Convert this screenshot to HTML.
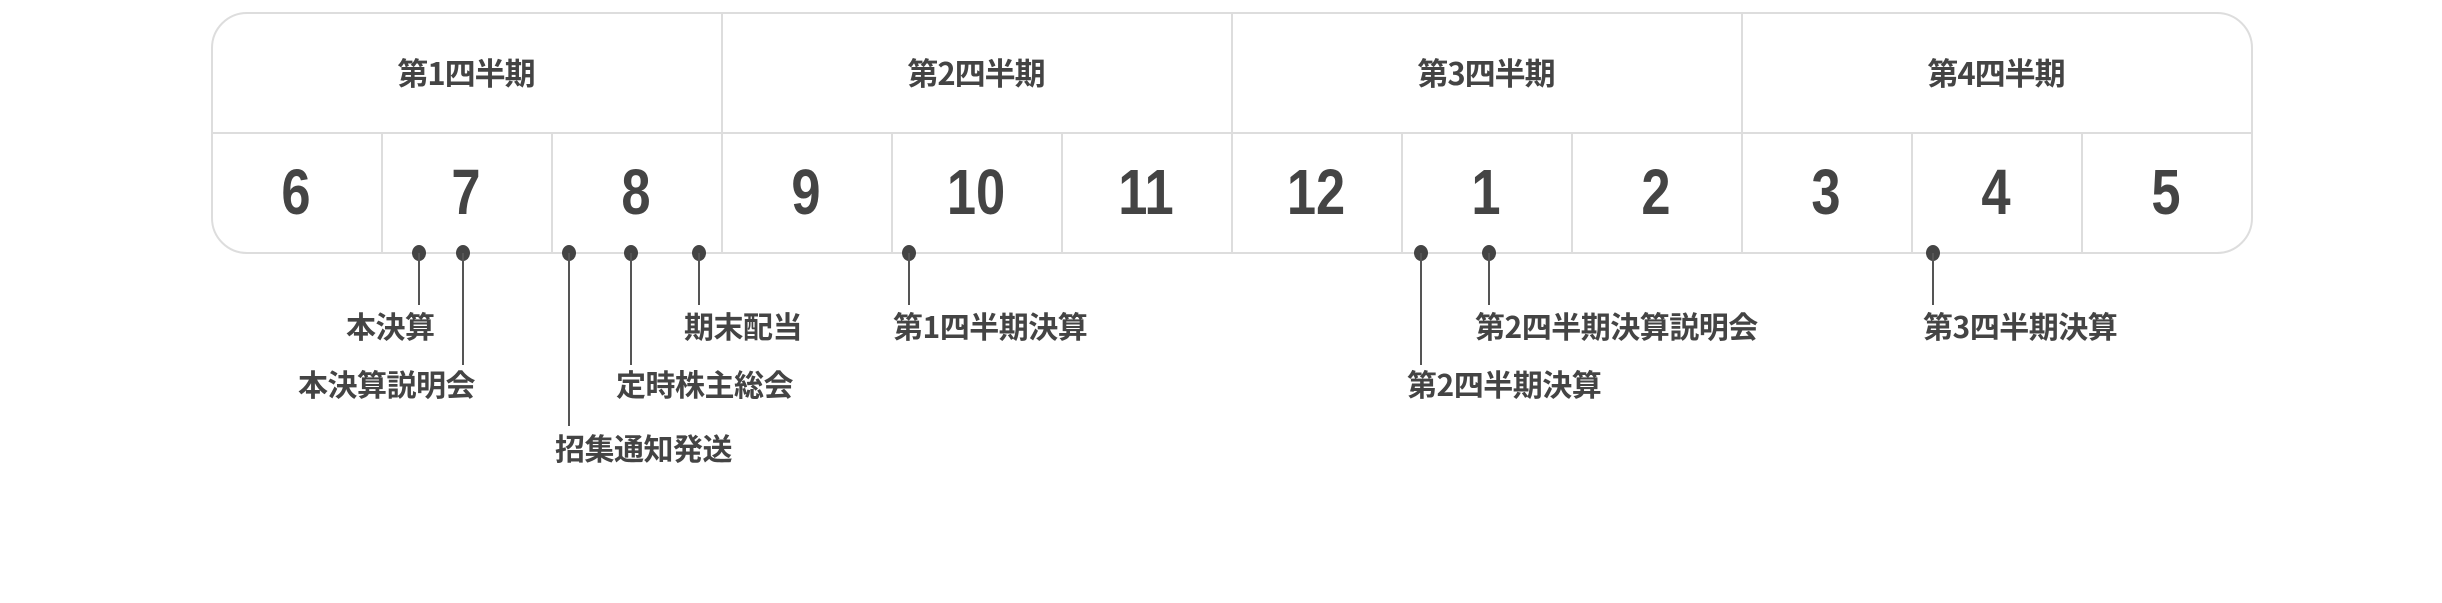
<!DOCTYPE html>
<html><head><meta charset="utf-8"><style>
body{margin:0;width:2442px;height:603px;background:#fff;position:relative;overflow:hidden;font-family:"Liberation Sans","Noto Sans CJK JP",sans-serif;color:#444;}
.box{position:absolute;left:211px;top:12px;width:2038px;height:238px;border:2px solid #ddd;border-radius:36px;}
.h{position:absolute;top:132px;left:211px;width:2040px;height:2px;background:#ddd}
.v{position:absolute;width:2px;background:#ddd}
.q{position:absolute;top:49px;width:510px;text-align:center;font-size:31px;font-weight:bold;font-family:"Noto Sans CJK JP",sans-serif;letter-spacing:-1px}
.m{position:absolute;top:160px;width:170px;text-align:center;font-size:64px;font-weight:bold;line-height:64px;transform:scaleX(0.82)}
.d{position:absolute;width:14px;height:16px;border-radius:50%;background:#444;top:245px}
.l{position:absolute;width:2px;background:#555;top:253px}
.t{position:absolute;font-size:30px;font-weight:bold;font-family:"Noto Sans CJK JP",sans-serif;white-space:nowrap;line-height:34px;letter-spacing:-0.5px}
</style></head><body>
<div class="box"></div>
<div class="h"></div>
<div class="v" style="left:721px;top:12px;height:240px"></div>
<div class="v" style="left:1231px;top:12px;height:240px"></div>
<div class="v" style="left:1741px;top:12px;height:240px"></div>
<div class="v" style="left:381px;top:133px;height:119px"></div>
<div class="v" style="left:551px;top:133px;height:119px"></div>
<div class="v" style="left:891px;top:133px;height:119px"></div>
<div class="v" style="left:1061px;top:133px;height:119px"></div>
<div class="v" style="left:1401px;top:133px;height:119px"></div>
<div class="v" style="left:1571px;top:133px;height:119px"></div>
<div class="v" style="left:1911px;top:133px;height:119px"></div>
<div class="v" style="left:2081px;top:133px;height:119px"></div>
<div class="q" style="left:211px">第1四半期</div>
<div class="q" style="left:721px">第2四半期</div>
<div class="q" style="left:1231px">第3四半期</div>
<div class="q" style="left:1741px">第4四半期</div>
<div class="m" style="left:211px">6</div>
<div class="m" style="left:381px">7</div>
<div class="m" style="left:551px">8</div>
<div class="m" style="left:721px">9</div>
<div class="m" style="left:891px">10</div>
<div class="m" style="left:1061px">11</div>
<div class="m" style="left:1231px">12</div>
<div class="m" style="left:1401px">1</div>
<div class="m" style="left:1571px">2</div>
<div class="m" style="left:1741px">3</div>
<div class="m" style="left:1911px">4</div>
<div class="m" style="left:2081px">5</div>

<div class="d" style="left:412px"></div><div class="l" style="left:418px;height:52px"></div>
<div class="d" style="left:456px"></div><div class="l" style="left:462px;height:112px"></div>
<div class="d" style="left:562px"></div><div class="l" style="left:568px;height:173px"></div>
<div class="d" style="left:624px"></div><div class="l" style="left:630px;height:112px"></div>
<div class="d" style="left:692px"></div><div class="l" style="left:698px;height:52px"></div>
<div class="d" style="left:902px"></div><div class="l" style="left:908px;height:52px"></div>
<div class="d" style="left:1414px"></div><div class="l" style="left:1420px;height:112px"></div>
<div class="d" style="left:1482px"></div><div class="l" style="left:1488px;height:52px"></div>
<div class="d" style="left:1926px"></div><div class="l" style="left:1932px;height:52px"></div>

<div class="t" style="left:346px;top:308px">本決算</div>
<div class="t" style="left:298px;top:366px">本決算説明会</div>
<div class="t" style="left:555px;top:430px">招集通知発送</div>
<div class="t" style="left:616px;top:366px">定時株主総会</div>
<div class="t" style="left:684px;top:308px">期末配当</div>
<div class="t" style="left:893px;top:308px">第1四半期決算</div>
<div class="t" style="left:1407px;top:366px">第2四半期決算</div>
<div class="t" style="left:1475px;top:308px">第2四半期決算説明会</div>
<div class="t" style="left:1923px;top:308px">第3四半期決算</div>
</body></html>
